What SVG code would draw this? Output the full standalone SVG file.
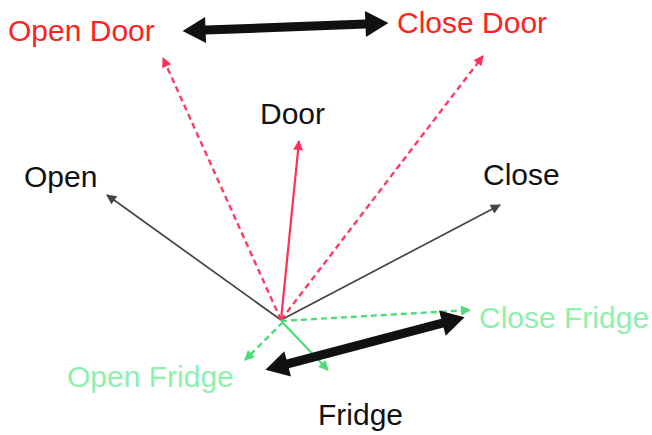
<svg xmlns="http://www.w3.org/2000/svg" width="652" height="435" viewBox="0 0 652 435">
  <style>
    text { font-family: "Liberation Sans", Arial, sans-serif; font-size: 30px; }
    .red-label { fill: #ff2222; }
    .black-label { fill: #111111; }
    .green-label { fill: #8ef0ae; }
    .gray { stroke: #444444; stroke-width: 1.7; fill: none; }
    .red { stroke: #ff3058; stroke-width: 2.2; fill: none; }
    .red-dash { stroke: #ff3a62; stroke-width: 2.4; fill: none; stroke-dasharray: 6 4; }
    .green { stroke: #4cdc78; stroke-width: 2.2; fill: none; }
    .green-dash { stroke: #4cdc78; stroke-width: 2.4; fill: none; stroke-dasharray: 6 4; }
    .double { fill: #111111; }
  </style>
  <defs>
    <marker id="head-gray" viewBox="0 0 10 10" refX="9" refY="5" markerWidth="11" markerHeight="10" markerUnits="userSpaceOnUse" orient="auto">
      <path d="M0,0 L10,5 L0,10 Z" fill="#444444"/>
    </marker>
    <marker id="head-red" viewBox="0 0 10 10" refX="9" refY="5" markerWidth="11" markerHeight="10" markerUnits="userSpaceOnUse" orient="auto">
      <path d="M0,0 L10,5 L0,10 Z" fill="#ff3058"/>
    </marker>
    <marker id="head-green" viewBox="0 0 10 10" refX="9" refY="5" markerWidth="11" markerHeight="10" markerUnits="userSpaceOnUse" orient="auto">
      <path d="M0,0 L10,5 L0,10 Z" fill="#4cdc78"/>
    </marker>
    <!-- thick two-headed arrow, centred on the origin along the x axis -->
    <polygon id="double-arrow" points="-103,0 -80,-13 -80,-4.5 80,-4.5 80,-13 103,0 80,13 80,4.5 -80,4.5 -80,13"/>
  </defs>

  <g id="connectors">
    <line class="gray" x1="281" y1="320" x2="107" y2="195" marker-end="url(#head-gray)"/>
    <line class="gray" x1="281" y1="320" x2="500" y2="205" marker-end="url(#head-gray)"/>
    <line class="red-dash" x1="281" y1="320" x2="163" y2="58" marker-end="url(#head-red)"/>
    <line class="red-dash" x1="281" y1="320" x2="483" y2="56" marker-end="url(#head-red)"/>
    <line class="red" x1="281" y1="320" x2="299" y2="141" marker-end="url(#head-red)"/>
    <line class="green-dash" x1="281" y1="321" x2="470" y2="310" marker-end="url(#head-green)"/>
    <line class="green-dash" x1="283" y1="322" x2="245" y2="360" marker-end="url(#head-green)"/>
    <line class="green" x1="283" y1="323" x2="328" y2="370" marker-end="url(#head-green)"/>
    <use href="#double-arrow" class="double" transform="translate(285.5 27) rotate(-2.2)"/>
    <use href="#double-arrow" class="double" transform="translate(365 343.5) rotate(-14.8)"/>
  </g>

  <g id="node-open-door"><text class="red-label" x="8" y="41">Open Door</text></g>
  <g id="node-close-door"><text class="red-label" x="397" y="33">Close Door</text></g>
  <g id="node-door"><text class="black-label" x="260" y="124">Door</text></g>
  <g id="node-open"><text class="black-label" x="24" y="187">Open</text></g>
  <g id="node-close"><text class="black-label" x="483" y="185">Close</text></g>
  <g id="node-close-fridge"><text class="green-label" x="479" y="328">Close Fridge</text></g>
  <g id="node-open-fridge"><text class="green-label" x="67" y="387">Open Fridge</text></g>
  <g id="node-fridge"><text class="black-label" x="318" y="425">Fridge</text></g>
</svg>
